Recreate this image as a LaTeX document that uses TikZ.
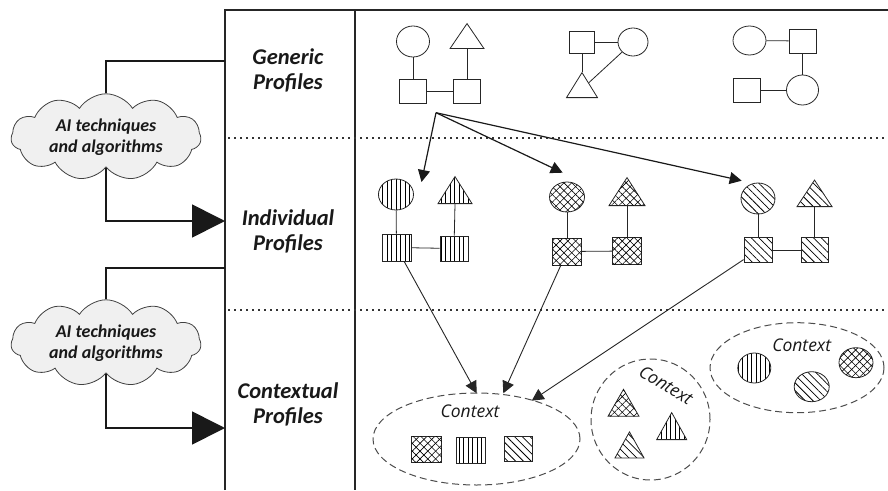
\documentclass[tikz,border=0pt]{standalone}
\usepackage{fontspec}
\setmainfont{Carlito}
\newfontfamily\ctxfont{Open Sans}
\usetikzlibrary{shapes.geometric,shapes.symbols,patterns.meta,arrows.meta,calc}
\tikzset{
  frame/.style={line width=1.7pt, black!85},
  sepline/.style={line width=2pt, dash pattern=on 1.8pt off 4.2pt, black!80},
  lbl/.style={font=\fontsize{22.5}{25}\selectfont\bfseries\itshape, align=center, text=black!90},
  cloudn/.style={cloud, cloud puffs=11, cloud puff arc=115, aspect=2.5, draw=black!75, line width=0.8pt, fill=black!6, minimum width=190pt, minimum height=77pt, inner sep=0pt, font=\fontsize{18}{20.5}\selectfont\bfseries\itshape, align=center, text=black!90},
  conn/.style={line width=1.7pt, black!90},
  bigarrow/.style={conn, -{Triangle[length=33pt,width=33pt]}},
  shp/.style={draw=black!85, line width=0.8pt, inner sep=0pt},
  circ/.style={shp, ellipse, minimum width=#1},
  sq/.style={shp, rectangle},
  tri/.style={shp, isosceles triangle, isosceles triangle stretches, shape border rotate=90, anchor=south},
  vl/.style={pattern={Lines[angle=90,distance=4.5pt,line width=0.75pt]}},
  dl/.style={pattern={Lines[angle=-45,distance=5.5pt,line width=0.75pt]}},
  xh/.style={pattern={Lines[angle=45,distance=5.5pt,line width=0.6pt]}, postaction={pattern={Lines[angle=-45,distance=5.5pt,line width=0.6pt]}}},
  thin/.style={line width=0.8pt, black!85},
  parrow/.style={line width=1.2pt, black!90, -{Triangle[length=12pt,width=12pt]}},
  carrow/.style={line width=0.9pt, black!85, -{Triangle[length=12pt,width=12pt]}},
  ctx/.style={draw=black!70, line width=1pt, dash pattern=on 7pt off 4pt, ellipse, inner sep=0pt},
  ctxt/.style={font=\ctxfont\itshape\fontsize{17.5}{19}\selectfont, text=black!90},
}
\begin{document}
\begin{tikzpicture}[x=1pt,y=-1pt]
\useasboundingbox (0,0) rectangle (888,490);
% frame
\draw[frame] (225,490) -- (225,10) -- (888,10);
\draw[frame, line width=1.3pt] (355,10) -- (355,490);
\draw[sepline] (228,138) -- (888,138);
\draw[sepline] (228,310) -- (888,310);
% row labels
\node[lbl] (lg) at (288,70.5) {Generic\\Profiles};
\node[lbl] (li) at (288,231) {Individual\\Profiles};
\node[lbl] (lc) at (288,404.5) {Contextual\\Profiles};
% clouds and connectors
\node[cloudn] (cl1) at (106,137) {AI techniques\\and algorithms};
\node[cloudn] (cl2) at (106,343) {AI techniques\\and algorithms};
\coordinate (f1) at (225,61);
\coordinate (a1) at (225,221);
\coordinate (f2) at (225,268);
\coordinate (a2) at (225,428);
\draw[conn] (f1) -| (cl1);
\draw[bigarrow] (cl1) |- (a1);
\draw[conn] (f2) -| (cl2);
\draw[bigarrow] (cl2) |- (a2);
% generic profiles
\node[circ=33pt, minimum height=31pt] (g1c) at (413,41.5) {};
\node[tri, minimum width=34pt, minimum height=25pt] (g1t) at (467,49) {};
\node[sq, minimum width=27pt, minimum height=24pt] (g1s1) at (413,91) {};
\node[sq, minimum width=27pt, minimum height=24pt] (g1s2) at (467,91) {};
\draw[thin] (g1c) -- (g1s1);
\draw[thin] (g1t.south) -- (g1s2);
\draw[thin] (g1s1) -- (g1s2);
\node[sq, minimum width=25pt, minimum height=22pt] (g2s) at (582,42) {};
\node[circ=30pt, minimum height=28pt] (g2c) at (633,42) {};
\node[tri, minimum width=31pt, minimum height=25pt] (g2t) at (582,98) {};
\draw[thin] (g2s) -- (g2c);
\draw[thin] (g2s) -- (g2t.apex);
\draw[thin] (g2c) -- (g2t);
\node[circ=33pt, minimum height=29pt] (g3c1) at (749.5,40.5) {};
\node[sq, minimum width=27pt, minimum height=24pt] (g3s1) at (802.5,41) {};
\node[sq, minimum width=27pt, minimum height=24pt] (g3s2) at (746.5,90) {};
\node[circ=32pt, minimum height=30pt] (g3c2) at (802.5,90) {};
\draw[thin] (g3c1) -- (g3s1);
\draw[thin] (g3s1) -- (g3c2);
\draw[thin] (g3s2) -- (g3c2);
% arrows generic -> individual
\coordinate (o) at (436,112.7);
\coordinate (t1) at (421.5,182);
\coordinate (t2) at (562.7,172.7);
\coordinate (t3) at (741.7,180.7);
\draw[parrow] (o) -- (t1);
\draw[parrow] (o) -- (t2);
\draw[parrow] (o) -- (t3);
% individual profiles A (vertical lines)
\node[circ=35pt, minimum height=31pt, vl] (iac) at (396,194.5) {};
\node[tri, vl, minimum width=34pt, minimum height=27pt] (iat) at (455,204) {};
\node[sq, vl, minimum width=29pt, minimum height=27pt] (ias1) at (396.5,247.5) {};
\node[sq, vl, minimum width=28pt, minimum height=25pt] (ias2) at (454,248.5) {};
\draw[thin] (iac) -- (ias1);
\draw[thin] (iat.south) -- (ias2);
\draw[thin] (ias1) -- (ias2);
% B (crosshatch)
\node[circ=35pt, minimum height=30pt, xh] (ibc) at (567,197) {};
\node[tri, xh, minimum width=36pt, minimum height=28pt] (ibt) at (627,206) {};
\node[sq, xh, minimum width=29pt, minimum height=27pt] (ibs1) at (567,251.5) {};
\node[sq, xh, minimum width=29pt, minimum height=27pt] (ibs2) at (627,251) {};
\draw[thin] (ibc) -- (ibs1);
\draw[thin] (ibt.south) -- (ibs2);
\draw[thin] (ibs1) -- (ibs2);
% C (diagonal lines)
\node[circ=34pt, minimum height=31pt, dl] (icc) at (758,198.5) {};
\node[tri, dl, minimum width=35pt, minimum height=26.5pt] (ict) at (814.5,207) {};
\node[sq, dl, minimum width=28pt, minimum height=24.5pt] (ics1) at (758,250) {};
\node[sq, dl, minimum width=27pt, minimum height=24.5pt] (ics2) at (814.5,250) {};
\draw[thin] (icc) -- (ics1);
\draw[thin] (ict.south) -- (ics2);
\draw[thin] (ics1) -- (ics2);
% context 1
\node[ctx, minimum width=207pt, minimum height=92pt] (e1) at (476.5,439) {};
\node[ctxt] (e1t) at (470,411.5) {Context};
\node[sq, xh, minimum width=30pt, minimum height=25.5pt] (e1a) at (426.7,449.5) {};
\node[sq, vl, minimum width=29.5pt, minimum height=26pt] (e1b) at (470.8,450) {};
\node[sq, dl, minimum width=28.5pt, minimum height=25pt] (e1c) at (518.3,448.5) {};
\coordinate (u1) at (476.7,393.3);
\coordinate (u2) at (503.3,393.3);
\coordinate (u3) at (531.7,400.7);
\draw[carrow] (ias1) -- (u1);
\draw[carrow] (ibs1) -- (u2);
\draw[carrow] (ics1) -- (u3);
% context 2
\node[ctx, minimum width=119pt, minimum height=121pt] (e2) at (650.5,419.5) {};
\node[ctxt, rotate=-31] (e2t) at (666,385) {Context};
\node[tri, xh, minimum width=31pt, minimum height=27pt] (e2a) at (623.5,416.7) {};
\node[tri, vl, minimum width=30pt, minimum height=27pt] (e2b) at (671.7,440) {};
\node[tri, dl, minimum width=29pt, minimum height=26pt] (e2c) at (629.5,458.3) {};
% context 3
\node[ctx, minimum width=174pt, minimum height=90pt] (e3) at (797,367.7) {};
\node[ctxt] (e3t) at (801.7,345) {Context};
\node[circ=33pt, minimum height=30pt, vl] (e3a) at (754.3,368) {};
\node[circ=35pt, minimum height=30pt, dl] (e3b) at (811.7,386.7) {};
\node[circ=34pt, minimum height=30pt, xh] (e3c) at (856,362.7) {};
\end{tikzpicture}
\end{document}
